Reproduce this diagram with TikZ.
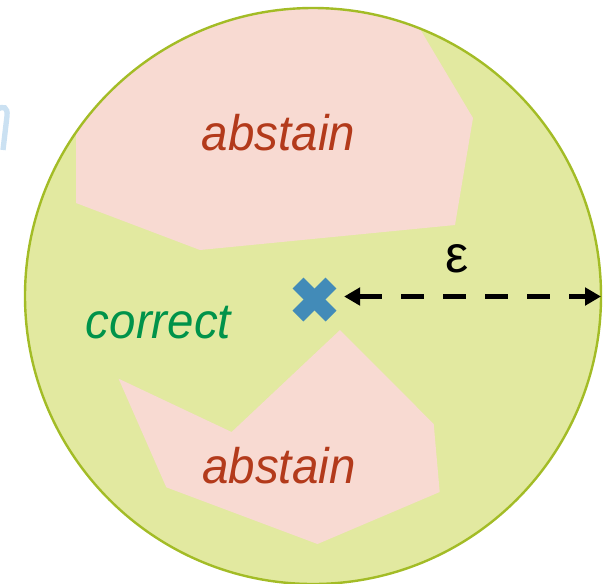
\documentclass[tikz,border=0pt]{standalone}
\usepackage{fontspec}
\setmainfont{Liberation Sans}
\usetikzlibrary{arrows.meta, positioning}
\definecolor{ballfill}{RGB}{226,233,160}
\definecolor{balledge}{RGB}{163,188,38}
\definecolor{abstainfill}{RGB}{248,218,210}
\definecolor{abstaintext}{RGB}{179,58,27}
\definecolor{correcttext}{RGB}{0,147,74}
\definecolor{pointblue}{RGB}{66,139,184}
\definecolor{ghostblue}{RGB}{203,225,242}
\newcommand{\narrow}[1]{\scalebox{0.95}[1]{#1}}

\begin{document}
\begin{tikzpicture}[x=0.75pt, y=-0.75pt,
    abstainzone/.style={fill=abstainfill, draw=none},
    word/.style={font=\fontsize{37.5pt}{42pt}\selectfont\itshape, inner sep=0pt, anchor=base},
    arm/.style={fill=pointblue, minimum width=35pt, minimum height=11.5pt, inner sep=0pt},
    spot/.style={circle, minimum size=44pt, inner sep=0pt},
    epsline/.style={dash pattern=on 17pt off 14.5pt, line width=4.3pt, {Triangle[length=12pt,width=13pt]}-{Triangle[length=12pt,width=13pt]}}
]
\useasboundingbox (0,0) rectangle (616,583);
\draw[ghostblue, line width=4pt] (-3,110) .. controls (3,105) and (8,107) .. (7,116) -- (3,150);
\fill[ballfill] (313,296) circle[radius=288];
\begin{scope}
\clip (313,296) circle[radius=288];
\fill[abstainzone] (76,0) -- (76,203) -- (200,250) -- (455,225) -- (473,118) -- (420,29) -- (420,0) -- cycle;
\fill[abstainzone] (118.6,378.7) -- (231.6,432) -- (340,330) -- (433.7,424) -- (439.7,492) -- (317.5,544) -- (166.3,487.3) -- cycle;
\end{scope}
\draw[balledge, line width=1.8pt] (313,296) circle[radius=288];

\node[word, text=abstaintext] (top) at (278.5,150) {\narrow{abstain}};
\node[word, text=abstaintext] (bottom) at (279,483) {\narrow{abstain}};
\node[word, text=correcttext] (correct) at (158.5,338) {\narrow{correct}};

\node[arm, rotate=45] (armA) at (314.5,299.5) {};
\node[arm, rotate=-45] (armB) at (314.5,299.5) {};
\node[spot] (pt) at (314.5,296.5) {};
\coordinate (rim) at (601,296.5);
\draw[epsline] (pt) -- (rim);
\node[font=\fontsize{39pt}{44pt}\selectfont, anchor=base, inner sep=0pt] (eps) at (457,272) {ε};
\end{tikzpicture}
\end{document}
